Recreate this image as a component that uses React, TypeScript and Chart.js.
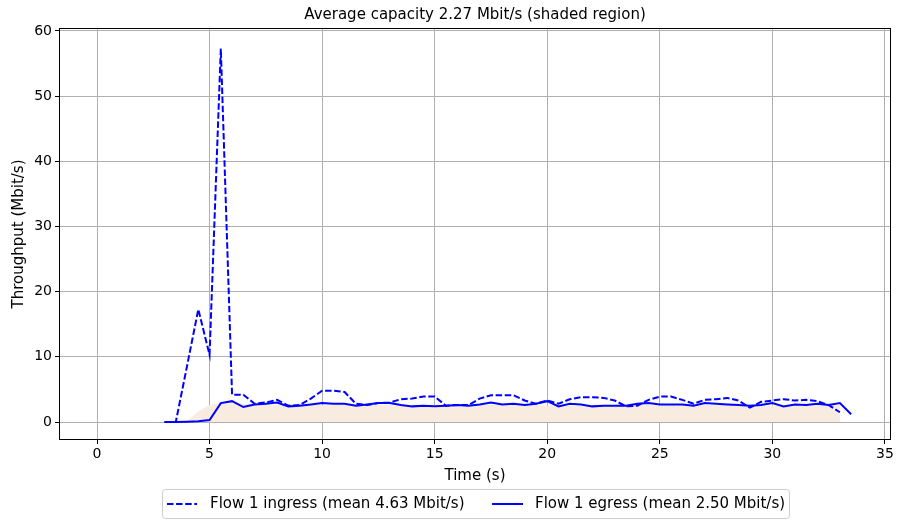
import React, { useEffect, useRef } from 'react';
import { Chart, registerables } from 'chart.js';

Chart.register(...registerables);

const TITLE = 'Average capacity 2.27 Mbit/s (shaded region)';
const X_LABEL = 'Time (s)';
const Y_LABEL = 'Throughput (Mbit/s)';
const LEGEND_INGRESS = 'Flow 1 ingress (mean 4.63 Mbit/s)';
const LEGEND_EGRESS = 'Flow 1 egress (mean 2.50 Mbit/s)';

const X_TICKS = [0, 5, 10, 15, 20, 25, 30, 35];
const Y_TICKS = [0, 10, 20, 30, 40, 50, 60];

const ingressTimes = [
  3.0, 3.5, 4.0, 4.5, 5.0, 5.5, 6.0, 6.5, 7.0, 7.5, 8.0, 8.5, 9.0, 9.5, 10.0, 10.5,
  11.0, 11.5, 12.0, 12.5, 13.0, 13.5, 14.0, 14.5, 15.0, 15.5, 16.0, 16.5, 17.0, 17.5,
  18.0, 18.5, 19.0, 19.5, 20.0, 20.5, 21.0, 21.5, 22.0, 22.5, 23.0, 23.5, 24.0, 24.5,
  25.0, 25.5, 26.0, 26.5, 27.0, 27.5, 28.0, 28.5, 29.0, 29.5, 30.0, 30.5, 31.0, 31.5,
  32.0, 32.5, 33.0,
];
const ingressValues = [
  0, 0, 8.6, 17.3, 10.3, 57.3, 4.2, 4.2, 2.8, 3.0, 3.4, 2.5, 2.6, 3.6, 4.8, 4.8,
  4.6, 2.8, 2.6, 2.9, 3.0, 3.5, 3.6, 3.9, 3.9, 2.5, 2.6, 2.6, 3.6, 4.1,
  4.1, 4.1, 3.3, 2.8, 3.3, 2.8, 3.5, 3.8, 3.8, 3.7, 3.3, 2.4, 2.5, 3.4,
  3.9, 3.9, 3.4, 2.8, 3.4, 3.5, 3.7, 3.3, 2.2, 3.1, 3.3, 3.5, 3.3, 3.4,
  3.2, 2.6, 1.5,
];

const egressTimes = [
  3.0, 3.5, 4.0, 4.5, 5.0, 5.5, 6.0, 6.5, 7.0, 7.5, 8.0, 8.5, 9.0, 9.5, 10.0, 10.5,
  11.0, 11.5, 12.0, 12.5, 13.0, 13.5, 14.0, 14.5, 15.0, 15.5, 16.0, 16.5, 17.0, 17.5,
  18.0, 18.5, 19.0, 19.5, 20.0, 20.5, 21.0, 21.5, 22.0, 22.5, 23.0, 23.5, 24.0, 24.5,
  25.0, 25.5, 26.0, 26.5, 27.0, 27.5, 28.0, 28.5, 29.0, 29.5, 30.0, 30.5, 31.0, 31.5,
  32.0, 32.5, 33.0, 33.5,
];
const egressValues = [
  0, 0, 0.05, 0.1, 0.3, 2.9, 3.2, 2.3, 2.7, 2.8, 3.0, 2.4, 2.5, 2.7, 2.9, 2.8,
  2.8, 2.5, 2.7, 2.9, 2.9, 2.6, 2.4, 2.5, 2.4, 2.5, 2.6, 2.5, 2.7, 3.0,
  2.7, 2.8, 2.6, 2.8, 3.2, 2.4, 2.8, 2.7, 2.4, 2.5, 2.5, 2.5, 2.8, 2.9,
  2.7, 2.7, 2.7, 2.5, 2.9, 2.8, 2.7, 2.6, 2.5, 2.6, 2.9, 2.4, 2.7, 2.6,
  2.8, 2.6, 2.9, 1.2,
];

const capacityTimes = [
  0.0, 0.5, 1.0, 1.5, 2.0, 2.5, 3.0, 3.5, 4.0, 4.5, 5.0, 5.5,
  6.0, 6.5, 7.0, 7.5, 8.0, 8.5, 9.0, 9.5, 10.0, 10.5,
  11.0, 11.5, 12.0, 12.5, 13.0, 13.5, 14.0, 14.5, 15.0, 15.5, 16.0, 16.5, 17.0, 17.5,
  18.0, 18.5, 19.0, 19.5, 20.0, 20.5, 21.0, 21.5, 22.0, 22.5, 23.0, 23.5, 24.0, 24.5,
  25.0, 25.5, 26.0, 26.5, 27.0, 27.5, 28.0, 28.5, 29.0, 29.5, 30.0, 30.5, 31.0, 31.5,
  32.0, 32.5, 33.0,
];
const capacityValues = [
  0, 0, 0, 0, 0, 0, 0, 0, 0.2, 1.6, 2.6, 2.9,
  2.9, 2.8, 2.7, 2.7, 2.6, 2.6, 2.7, 2.7, 2.6, 2.6,
  2.6, 2.7, 2.7, 2.6, 2.6, 2.5, 2.5, 2.5, 2.6, 2.6,
  2.5, 2.6, 2.7, 2.6, 2.6, 2.7, 2.6, 2.6, 2.5, 2.6,
  2.5, 2.5, 2.5, 2.5, 2.5, 2.6, 2.6, 2.6, 2.5, 2.6,
  2.6, 2.7, 2.6, 2.6, 2.6, 2.5, 2.5, 2.4, 2.5, 2.5,
  2.6, 2.5, 2.6, 2.6, 2.6,
];

const X_MIN = -1.688;
const X_MAX = 35.27;
const Y_MIN = -2.76;
const Y_MAX = 60.46;

const FONT = "'DejaVu Sans', sans-serif";
const BLUE = '#0000ff';
const DASH = [6.5, 2.6];

const toPoints = (xs: number[], ys: number[]) => xs.map((x, i) => ({ x, y: ys[i] }));

const overlayPlugin = {
  id: 'overlay',
  afterDraw(chart: any) {
    const { ctx, chartArea: a } = chart;
    ctx.save();
    ctx.strokeStyle = '#000';
    ctx.lineWidth = 1;
    ctx.strokeRect(Math.round(a.left) + 0.5, Math.round(a.top) + 0.5,
      Math.round(a.right - a.left) - 1, Math.round(a.bottom - a.top) - 1);

    const cx = (a.left + a.right) / 2;
    ctx.fillStyle = '#000';
    ctx.textAlign = 'center';
    ctx.textBaseline = 'middle';
    ctx.font = `15px ${FONT}`;
    ctx.fillText(TITLE, cx, 15);

    ctx.fillText(X_LABEL, cx, 476);

    ctx.save();
    ctx.translate(19, (a.top + a.bottom) / 2);
    ctx.rotate(-Math.PI / 2);
    ctx.fillText(Y_LABEL, 0, 0);
    ctx.restore();

    // legend
    const lx = 162, ly = 489, lw = 627, lh = 29;
    ctx.beginPath();
    ctx.roundRect(lx + 0.5, ly + 0.5, lw, lh, 3);
    ctx.fillStyle = 'rgba(255,255,255,0.8)';
    ctx.fill();
    ctx.strokeStyle = '#cccccc';
    ctx.lineWidth = 1;
    ctx.stroke();

    const my = ly + lh / 2 + 0.5;
    ctx.strokeStyle = BLUE;
    ctx.lineWidth = 2;
    ctx.setLineDash(DASH);
    ctx.beginPath();
    ctx.moveTo(167, my);
    ctx.lineTo(197, my);
    ctx.stroke();
    ctx.setLineDash([]);
    ctx.beginPath();
    ctx.moveTo(492, my);
    ctx.lineTo(523, my);
    ctx.stroke();

    ctx.fillStyle = '#000';
    ctx.textAlign = 'left';
    ctx.fillText(LEGEND_INGRESS, 210, my);
    ctx.fillText(LEGEND_EGRESS, 535, my);
    ctx.restore();
  },
};

export default function App() {
  const ref = useRef<HTMLCanvasElement>(null);
  useEffect(() => {
    document.body.style.margin = '0';
    const canvas = ref.current!;
    const chart = new Chart(canvas, {
      type: 'line',
      data: {
        datasets: [
          {
            label: LEGEND_EGRESS,
            data: toPoints(egressTimes, egressValues),
            borderColor: BLUE,
            borderWidth: 2,
            pointRadius: 0,
            fill: false,
            tension: 0,
          },
          {
            label: LEGEND_INGRESS,
            data: toPoints(ingressTimes, ingressValues),
            borderColor: BLUE,
            borderWidth: 2,
            borderDash: DASH,
            pointRadius: 0,
            fill: false,
            tension: 0,
          },
          {
            label: 'Capacity',
            data: toPoints(capacityTimes, capacityValues),
            borderWidth: 0,
            borderColor: 'rgba(0,0,0,0)',
            backgroundColor: '#f8ebe0',
            pointRadius: 0,
            fill: 'origin',
            tension: 0,
          },
        ],
      },
      options: {
        responsive: false,
        animation: false,
        layout: { padding: { top: 28, right: 7, left: 0, bottom: 0 } },
        plugins: {
          legend: { display: false },
          title: { display: false },
          tooltip: { enabled: false },
        },
        scales: {
          x: {
            type: 'linear',
            min: X_MIN,
            max: X_MAX,
            afterBuildTicks: (s: any) => { s.ticks = X_TICKS.map((v) => ({ value: v })); },
            afterFit: (s: any) => { s.height = 81; },
            grid: { color: '#b0b0b0', lineWidth: 1, tickColor: '#000', tickLength: 4 },
            border: { display: false },
            ticks: { color: '#000', font: { family: FONT, size: 14 }, padding: 2, maxRotation: 0 },
          },
          y: {
            type: 'linear',
            min: Y_MIN,
            max: Y_MAX,
            afterBuildTicks: (s: any) => { s.ticks = Y_TICKS.map((v) => ({ value: v })); },
            afterFit: (s: any) => { s.width = 59; },
            grid: { color: '#b0b0b0', lineWidth: 1, tickColor: '#000', tickLength: 4 },
            border: { display: false },
            ticks: { color: '#000', font: { family: FONT, size: 14 }, padding: 3 },
          },
        },
      },
      plugins: [overlayPlugin],
    });
    return () => chart.destroy();
  }, []);
  return (
    <div style={{ width: 898, height: 521 }}>
      <canvas ref={ref} width={898} height={521} style={{ display: 'block' }} />
    </div>
  );
}
